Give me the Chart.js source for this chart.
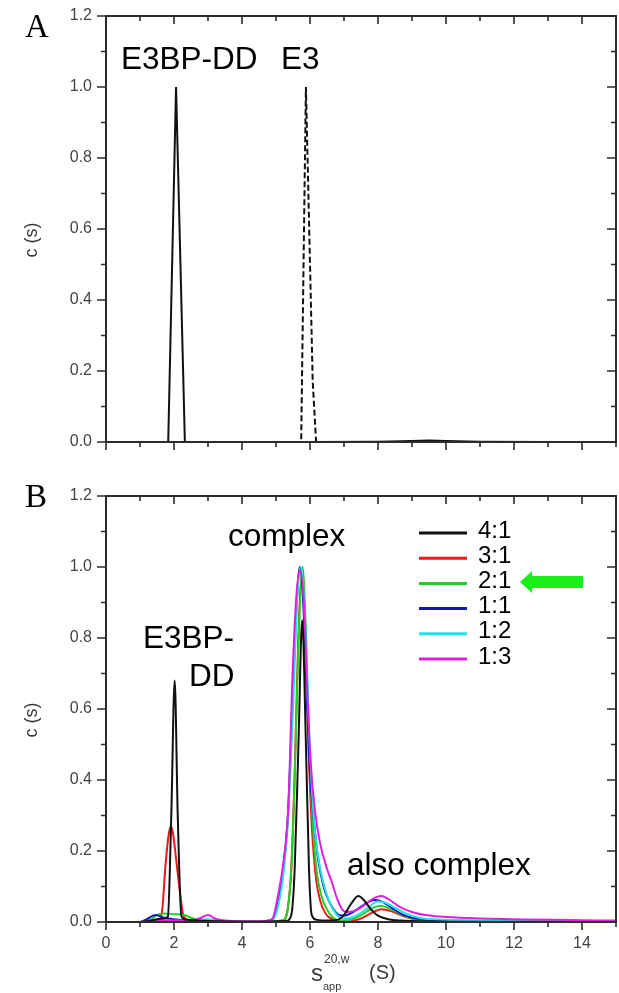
<!DOCTYPE html>
<html>
<head>
<meta charset="utf-8">
<script src="https://cdn.jsdelivr.net/npm/chart.js@4"></script>
<style>
  body { margin: 0; background: #fff; }
  #wrap { position: relative; width: 619px; height: 993px; }
  canvas { position: absolute; left: 0; }
  #cA { top: 0; }
  #cB { top: 470px; }
  .xt { position: absolute; font-family: Arial, "Liberation Sans", sans-serif; color: #3a3a3a; white-space: nowrap; line-height: 1; }
</style>
</head>
<body>
<div id="wrap">
  <canvas id="cA" width="619" height="470"></canvas>
  <canvas id="cB" width="619" height="523"></canvas>
  <span class="xt" style="left:311px; top:961px; font-size:24px;">s</span>
  <span class="xt" style="left:324px; top:953px; font-size:12px;">20,w</span>
  <span class="xt" style="left:323px; top:981px; font-size:11px;">app</span>
  <span class="xt" style="left:369px; top:962px; font-size:20px;">(S)</span>
</div>
<script>
// panel A: single components
const sDD = [0, 1.5, 1.83, 2.06, 2.32, 3, 6, 8, 9, 9.5, 10, 11, 13, 15];
const cDD = [0, 0, 0, 1.0, 0, 0, 0, 0.001, 0.003, 0.004, 0.003, 0.001, 0, 0];
const sE3 = [0, 5, 5.74, 5.88, 6.08, 6.18, 8, 15];
const cE3 = [0, 0, 0, 1.0, 0.17, 0, 0, 0];

// panel B: mixtures, E3BP-DD : E3
const ratioLabels = ['4:1', '3:1', '2:1', '1:1', '1:2', '1:3'];
const ratioColors = ['#111111', '#f01818', '#22d022', '#1414c0', '#22e0e8', '#e020e0'];

const s41 = [0, 1.0, 1.3, 1.5, 1.7, 1.82, 1.92, 2.02, 2.11, 2.22, 2.4, 3.0, 4.5, 5.3, 5.45, 5.55, 5.66, 5.77, 5.88, 5.97, 6.05, 6.2, 6.5, 6.8, 7.0, 7.2, 7.42, 7.6, 7.8, 8.0, 8.3, 8.7, 9.2, 10, 15];
const c41 = [0, 0, 0.004, 0.008, 0.01, 0.015, 0.3, 0.68, 0.3, 0.015, 0.006, 0.003, 0.001, 0.003, 0.02, 0.15, 0.5, 0.85, 0.5, 0.15, 0.02, 0.006, 0.004, 0.006, 0.02, 0.05, 0.073, 0.06, 0.035, 0.018, 0.008, 0.004, 0.002, 0.001, 0];

const s31 = [0, 1.0, 1.4, 1.6, 1.66, 1.75, 1.85, 1.91, 1.97, 2.07, 2.18, 2.27, 2.4, 2.6, 3.0, 4.5, 5.2, 5.35, 5.45, 5.55, 5.65, 5.76, 5.86, 5.96, 6.06, 6.18, 6.3, 6.45, 6.6, 6.8, 7.2, 7.5, 7.8, 8.1, 8.4, 8.7, 9.0, 9.5, 10, 15];
const c31 = [0, 0, 0.004, 0.01, 0.04, 0.16, 0.25, 0.27, 0.25, 0.17, 0.08, 0.02, 0.006, 0.004, 0.002, 0.001, 0.004, 0.04, 0.15, 0.42, 0.78, 0.97, 0.8, 0.48, 0.26, 0.12, 0.06, 0.025, 0.01, 0.004, 0.003, 0.01, 0.025, 0.036, 0.03, 0.018, 0.01, 0.004, 0.002, 0];

const s21 = [0, 1.0, 1.3, 1.5, 1.7, 2.0, 2.3, 2.5, 2.8, 3.2, 4.5, 5.2, 5.35, 5.45, 5.55, 5.65, 5.78, 5.88, 5.98, 6.08, 6.2, 6.35, 6.5, 6.65, 6.8, 7.0, 7.3, 7.6, 7.9, 8.1, 8.4, 8.7, 9.0, 9.5, 10, 12, 15];
const c21 = [0, 0, 0.005, 0.02, 0.024, 0.022, 0.02, 0.012, 0.004, 0.002, 0.001, 0.004, 0.04, 0.15, 0.4, 0.75, 1.0, 0.82, 0.5, 0.28, 0.14, 0.07, 0.035, 0.015, 0.006, 0.004, 0.01, 0.025, 0.042, 0.045, 0.035, 0.02, 0.01, 0.004, 0.002, 0.001, 0];

const s11 = [0, 1.0, 1.2, 1.45, 1.7, 2.0, 2.5, 3.0, 3.5, 4.5, 4.9, 5.05, 5.2, 5.35, 5.48, 5.6, 5.7, 5.8, 5.9, 6.0, 6.12, 6.25, 6.4, 6.55, 6.7, 6.85, 7.0, 7.3, 7.6, 7.9, 8.1, 8.4, 8.7, 9.0, 9.5, 10, 11, 12, 15];
const c11 = [0, 0, 0.008, 0.02, 0.012, 0.008, 0.004, 0.004, 0.002, 0.001, 0.008, 0.05, 0.14, 0.3, 0.6, 0.88, 1.0, 0.9, 0.65, 0.42, 0.28, 0.17, 0.1, 0.06, 0.035, 0.02, 0.018, 0.03, 0.05, 0.062, 0.058, 0.04, 0.022, 0.012, 0.006, 0.004, 0.003, 0.002, 0.001];

const s12 = [0, 1.0, 1.5, 2.0, 2.5, 2.8, 3.0, 3.2, 3.5, 4.5, 4.9, 5.05, 5.2, 5.35, 5.5, 5.62, 5.73, 5.84, 5.94, 6.04, 6.15, 6.3, 6.45, 6.6, 6.75, 6.9, 7.1, 7.4, 7.7, 8.0, 8.2, 8.5, 8.8, 9.2, 10, 11, 12, 13, 15];
const c12 = [0, 0, 0.002, 0.003, 0.003, 0.006, 0.008, 0.005, 0.002, 0.001, 0.006, 0.04, 0.12, 0.28, 0.6, 0.9, 1.0, 0.88, 0.62, 0.4, 0.25, 0.15, 0.09, 0.05, 0.025, 0.012, 0.01, 0.02, 0.04, 0.058, 0.055, 0.04, 0.025, 0.012, 0.006, 0.004, 0.003, 0.002, 0.002];

const s13 = [0, 1.0, 1.5, 2.0, 2.5, 2.8, 3.0, 3.2, 3.5, 4.0, 4.5, 4.8, 4.92, 5.07, 5.22, 5.36, 5.48, 5.6, 5.71, 5.82, 5.92, 6.02, 6.15, 6.3, 6.5, 6.65, 6.8, 6.95, 7.1, 7.4, 7.7, 7.9, 8.1, 8.3, 8.6, 9.0, 9.5, 10, 11, 12, 13, 14, 15];
const c13 = [0, 0, 0.004, 0.005, 0.004, 0.012, 0.02, 0.01, 0.004, 0.002, 0.002, 0.004, 0.014, 0.08, 0.17, 0.32, 0.68, 0.92, 0.99, 0.9, 0.65, 0.45, 0.31, 0.22, 0.15, 0.11, 0.065, 0.035, 0.028, 0.035, 0.055, 0.068, 0.073, 0.065, 0.045, 0.028, 0.018, 0.014, 0.01, 0.008, 0.006, 0.005, 0.004];

const seriesS = [s41, s31, s21, s11, s12, s13];
const seriesC = [c41, c31, c21, c11, c12, c13];
const drawOrder = [0, 5, 4, 3, 2, 1];

const FONT = 'Arial, "Liberation Sans", sans-serif';

function pts(s, c) {
  return s.map((v, i) => ({ x: v, y: c[i] }));
}

// box, mirrored ticks (out on bottom/left, in on top/right)
const frameTicks = {
  id: 'frameTicks',
  afterDatasetsDraw(chart) {
    const { ctx, chartArea: a, scales: { x, y } } = chart;
    ctx.save();
    ctx.strokeStyle = '#2b2b2b';
    ctx.lineWidth = 2;
    ctx.strokeRect(a.left, a.top, a.right - a.left, a.bottom - a.top);
    ctx.lineWidth = 1.6;
    ctx.beginPath();
    for (let v = 0; v <= 15; v++) {
      const px = x.getPixelForValue(v);
      const len = v % 2 === 0 ? 8 : 5;
      ctx.moveTo(px, a.bottom); ctx.lineTo(px, a.bottom + len);
      ctx.moveTo(px, a.top); ctx.lineTo(px, a.top + len);
    }
    for (let k = 0; k <= 12; k++) {
      const py = y.getPixelForValue(k / 10);
      const len = k % 2 === 0 ? 9 : 5;
      ctx.moveTo(a.left - len, py); ctx.lineTo(a.left, py);
      ctx.moveTo(a.right, py); ctx.lineTo(a.right - len, py);
    }
    ctx.stroke();
    ctx.restore();
  }
};

// panel letter, axis title, peak names, legend and arrow
const notes = {
  id: 'notes',
  afterDraw(chart, args, opts) {
    const ctx = chart.ctx;
    ctx.save();
    ctx.fillStyle = '#000';
    ctx.textBaseline = 'alphabetic';
    ctx.font = '33px "Liberation Serif", "Times New Roman", serif';
    ctx.fillText(opts.letter, 25, 37);

    // y title, reads bottom to top
    ctx.save();
    ctx.translate(37, opts.titleY);
    ctx.rotate(-Math.PI / 2);
    ctx.textAlign = 'center';
    ctx.fillStyle = '#3a3a3a';
    ctx.font = '18px ' + FONT;
    ctx.fillText('c (s)', 0, 0);
    ctx.restore();

    ctx.font = '31.5px ' + FONT;
    (opts.texts || []).forEach(t => ctx.fillText(t.text, t.x, t.y));

    if (opts.legend) {
      const L = opts.legend;
      ctx.font = '24px ' + FONT;
      ctx.textBaseline = 'middle';
      chart.data.datasets.forEach((ds, i) => {
        const yy = L.y + i * L.step;
        ctx.strokeStyle = ds.borderColor;
        ctx.lineWidth = 3;
        ctx.beginPath();
        ctx.moveTo(L.x, yy); ctx.lineTo(L.x + 48, yy);
        ctx.stroke();
        ctx.fillStyle = '#000';
        ctx.fillText(ds.label, L.x + 59, yy - 2);
      });
    }
    if (opts.arrow) {
      const { x, y } = opts.arrow;
      ctx.fillStyle = '#19f019';
      ctx.beginPath();
      ctx.moveTo(x, y);
      ctx.lineTo(x + 12, y - 11);
      ctx.lineTo(x + 12, y - 6);
      ctx.lineTo(x + 63, y - 6);
      ctx.lineTo(x + 63, y + 6);
      ctx.lineTo(x + 12, y + 6);
      ctx.lineTo(x + 12, y + 11);
      ctx.closePath();
      ctx.fill();
    }
    ctx.restore();
  }
};

function panelOptions(padTop, xHeight, showX, notesOpts) {
  return {
    responsive: false,
    devicePixelRatio: 1,
    animation: false,
    layout: { padding: { left: 20, right: 3, top: padTop, bottom: 0 } },
    elements: { point: { radius: 0 }, line: { borderWidth: 2 } },
    plugins: { legend: { display: false }, tooltip: { enabled: false }, notes: notesOpts },
    scales: {
      x: {
        type: 'linear', min: 0, max: 15,
        border: { display: false },
        grid: { drawOnChartArea: false, tickLength: 8, tickColor: 'transparent' },
        ticks: {
          display: showX, stepSize: 2, includeBounds: false, padding: 4,
          color: '#444', font: { family: FONT, size: 16 },
          maxRotation: 0
        },
        afterFit(scale) { scale.height = xHeight; }
      },
      y: {
        min: 0, max: 1.2,
        border: { display: false },
        grid: { drawOnChartArea: false, tickLength: 9, tickColor: 'transparent' },
        ticks: {
          stepSize: 0.2, padding: 5, color: '#444', font: { family: FONT, size: 16 },
          callback: v => v.toFixed(1)
        },
        afterFit(scale) { scale.width = 86; }
      }
    }
  };
}

new Chart(document.getElementById('cA'), {
  type: 'line',
  data: {
    datasets: [
      { label: 'E3BP-DD', data: pts(sDD, cDD), borderColor: '#111', tension: 0 },
      { label: 'E3', data: pts(sE3, cE3), borderColor: '#111', borderDash: [6, 3], tension: 0 }
    ]
  },
  options: panelOptions(16, 28, false, {
    letter: 'A',
    titleY: 240,
    texts: [
      { text: 'E3BP-DD', x: 121, y: 69 },
      { text: 'E3', x: 281, y: 69 }
    ]
  }),
  plugins: [frameTicks, notes]
});

new Chart(document.getElementById('cB'), {
  type: 'line',
  data: {
    datasets: ratioLabels.map((lab, i) => ({
      label: lab,
      data: pts(seriesS[i], seriesC[i]),
      borderColor: ratioColors[i],
      cubicInterpolationMode: 'monotone',
      order: drawOrder[i]
    }))
  },
  options: panelOptions(26, 71, true, {
    letter: 'B',
    titleY: 250,
    texts: [
      { text: 'complex', x: 228, y: 76 },
      { text: 'E3BP-', x: 143, y: 178 },
      { text: 'DD', x: 189, y: 216 },
      { text: 'also complex', x: 347, y: 405 }
    ],
    legend: { x: 419, y: 63, step: 25.2 },
    arrow: { x: 520, y: 112 }
  }),
  plugins: [frameTicks, notes]
});
</script>
</body>
</html>
